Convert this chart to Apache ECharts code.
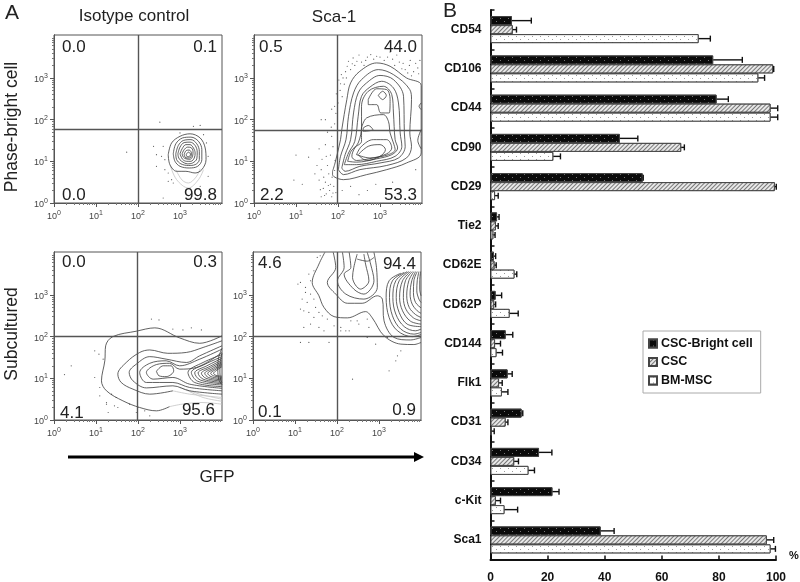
<!DOCTYPE html>
<html>
<head>
<meta charset="utf-8">
<style>html,body{margin:0;padding:0;background:#fff}#chart{width:800px;height:582px}</style>
<script src="https://cdn.jsdelivr.net/npm/echarts@6/dist/echarts.min.js"></script>
</head>
<body>
<div id="chart"></div>
<script>
// panel B values (%), upper = end of the error bar
const markers = ['CD54','CD106','CD44','CD90','CD29','Tie2','CD62E','CD62P','CD144','Flk1','CD31','CD34','c-Kit','Sca1']
const brightValues = [7.5,78,79.2,45.3,53.3,2.3,1.2,1.8,5.3,6,10.9,17,21.7,38.6]
const brightUpper = [14.3,88.2,83.3,51.6,53.5,3,1.8,3.9,7.8,7.6,11.3,21.5,24,43.3]
const cscValues = [7.8,99,98.1,66.8,99.6,1.9,1.4,1.3,1.6,3,5.3,8.3,1.9,96.8]
const cscUpper = [9.1,99.2,100.6,67.9,100.1,2.7,2,1.8,3.5,4.1,6.1,9.8,3.5,99.2]
const msscValues = [72.9,93.8,98.1,22,1.6,1,8.4,6.7,2.1,4,0.4,13.3,4.9,98.1]
const msscUpper = [77,96,100.6,24.5,2.7,1.6,9.2,9.7,4.2,6.1,1.3,15.4,9.5,99.8]
const percentTicks = [0,20,40,60,80,100]

// panel A, everything in decades of the log scale
const decades = [0,1,2,3]
const minorTicks = [0.3,0.48,0.6,0.7,0.78,0.85,0.9,0.95,1.3,1.48,1.6,1.7,1.78,1.85,1.9,1.95,2.3,2.48,2.6,2.7,2.78,2.85,2.9,2.95,3.3,3.48,3.6,3.7,3.78,3.85,3.9,3.95]

const brightIsoRings = [
  [[2.72,1.16],[2.8,1.44],[3,1.6],[3.24,1.66],[3.48,1.56],[3.6,1.32],[3.62,1.04],[3.52,0.8],[3.36,0.72],[3.14,0.76],[2.92,0.76],[2.76,0.92]],
  [[2.84,1.18],[2.9,1.42],[3.06,1.56],[3.26,1.58],[3.44,1.48],[3.52,1.28],[3.52,1.04],[3.42,0.88],[3.22,0.84],[3,0.88],[2.88,1]],
  [[2.9,1.18],[2.96,1.38],[3.08,1.5],[3.26,1.52],[3.4,1.42],[3.46,1.24],[3.46,1.04],[3.36,0.92],[3.2,0.9],[3.02,0.94],[2.92,1.04]],
  [[2.95,1.18],[3,1.34],[3.1,1.45],[3.24,1.46],[3.36,1.38],[3.41,1.22],[3.4,1.06],[3.3,0.96],[3.18,0.94],[3.04,1],[2.97,1.08]],
  [[3,1.18],[3.05,1.3],[3.14,1.4],[3.24,1.4],[3.32,1.32],[3.36,1.2],[3.34,1.08],[3.26,1],[3.16,1],[3.06,1.05]],
  [[3.05,1.18],[3.1,1.28],[3.18,1.34],[3.26,1.33],[3.31,1.24],[3.3,1.12],[3.24,1.05],[3.14,1.06],[3.08,1.1]],
  [[3.1,1.17],[3.15,1.26],[3.22,1.27],[3.27,1.2],[3.26,1.1],[3.18,1.08],[3.12,1.1]],
  [[3.15,1.17],[3.2,1.22],[3.25,1.17],[3.21,1.11],[3.16,1.12]],
]
const brightIsoFaint = [
  [[2.76,0.92],[2.92,0.56],[3.2,0.36],[3.44,0.56],[3.56,0.8]],
  [[2.9,0.8],[3.05,0.55],[3.2,0.48],[3.38,0.62],[3.48,0.82]],
]
const brightIsoDots = [[2.37,1.36],[2.44,1.16],[2.6,1.36],[2.56,1.12],[2.64,0.8],[2.72,0.72],[2.8,0.56],[2.84,0.48],[2.6,0.12],[2.52,1.94],[3.63,1.44],[3.67,1.12],[3.56,1.64],[3.32,1.84],[3.48,1.86],[1.73,1.22],[2.44,0.88],[2.64,1.04],[2.72,0.52],[3.48,0.4],[3.28,0.16],[3.67,0.64],[3,1.68]]

const brightScaRings = [
  [[1.87,0.76],[1.93,0.96],[2.06,1.52],[2.09,1.76],[2.21,2.48],[2.3,2.88],[2.52,3.16],[2.92,3.36],[3.24,3.28],[3.63,3],[3.98,2.82],[3.98,1.2],[3.63,0.96],[3.16,0.8],[2.68,0.68],[2.13,0.56],[1.87,0.68]],
  [[2.01,0.8],[2.06,1.12],[2.19,1.52],[2.25,2.08],[2.37,2.64],[2.56,2.96],[2.96,3.2],[3.32,3.08],[3.71,2.72],[3.75,2.48],[3.71,1.68],[3.75,1.36],[3.63,1.08],[3.16,0.9],[2.52,0.8],[2.13,0.68]],
  [[2.09,0.84],[2.17,1.16],[2.3,1.52],[2.37,2.16],[2.48,2.64],[2.68,2.88],[3,3.06],[3.32,2.96],[3.56,2.56],[3.58,1.68],[3.6,1.36],[3.44,1.08],[3,0.96],[2.52,0.88],[2.17,0.76]],
  [[2.15,0.92],[2.25,1.2],[2.4,1.48],[2.48,2.08],[2.56,2.56],[2.76,2.78],[3.04,2.92],[3.32,2.76],[3.44,2.4],[3.48,1.68],[3.52,1.36],[3.36,1.12],[2.92,1],[2.44,0.92]],
  [[2.23,1],[2.31,1.24],[2.48,1.44],[2.56,1.84],[2.56,2.32],[2.72,2.68],[3.08,2.8],[3.28,2.6],[3.32,2.16],[3.36,1.52],[3.42,1.32],[3.28,1.16],[2.92,1.06],[2.44,0.98]],
  [[2.72,2.48],[2.92,2.74],[3.16,2.72],[3.24,2.48],[3.22,2.16],[3.02,2.16],[2.92,2.36],[2.72,2.36]],
  [[2.56,1.8],[2.68,2.04],[3.08,2.12],[3.2,1.96],[3.24,1.68],[3.32,1.44],[3.36,1.28],[3.2,1.16],[2.84,1.08],[2.44,1.02],[2.33,1.12],[2.4,1.32],[2.56,1.48]],
  [[2.6,1.8],[2.72,1.86],[2.83,1.76],[2.6,1.72]],
  [[2.44,1.16],[2.56,1.36],[2.84,1.52],[3.16,1.52],[3.28,1.32],[3.16,1.18],[2.76,1.08]],
  [[2.48,1.16],[2.72,1.36],[3,1.4],[3.13,1.28],[3,1.12],[2.68,1.02]],
  [[2.96,2.58],[3.06,2.68],[3.15,2.58],[3.06,2.48]],
]
const brightScaOpen = [
  [[3.98,2.4],[3.93,2.32],[3.98,2.24]],
  [[3.98,1.76],[3.9,1.5],[3.98,1.3]],
]
const brightScaDots = [[1.55,1.3],[1.62,1.05],[1.7,1.4],[1.75,0.9],[1.6,0.8],[1.78,0.7],[1.55,0.55],[1.7,0.5],[1.82,0.45],[1.65,0.35],[1.8,0.3],[1.9,0.4],[1.72,0.22],[1.85,0.15],[1.95,0.25],[1.6,0.15],[1.5,0.9],[1.82,1.15],[1.88,1.35],[1.75,1.7],[1.85,1.6],[1.92,1.9],[1.7,2],[1.85,2.25],[1.95,2.15],[2,2.4],[2.05,2.7],[2.1,2.55],[2.02,2.95],[2.12,3],[2.15,2.85],[2.18,3.15],[2.3,3.2],[2.25,3.4],[2.4,3.3],[2.5,3.55],[2.45,3.4],[2.62,3.3],[2.7,3.5],[2.85,3.45],[3,3.5],[3.1,3.42],[3.3,3.45],[3.4,3.55],[3.35,3.3],[3.55,3.35],[3.6,3.2],[3.7,3.3],[3.8,3.15],[3.85,3.35],[3.92,3.1],[3.75,3.05],[1.3,1.1],[1,1.15],[0.95,0.55],[1.15,0.45],[1.45,0.7],[2.1,0.3],[2.3,0.4],[2.5,0.2],[2.7,0.3],[2.9,0.45],[3.3,0.5],[3.85,0.8],[1.6,2],
  [1.72,1.12],[1.66,0.62],[1.86,0.62],[1.77,0.42],[1.92,0.78],[1.58,0.32],[1.88,0.24],[1.68,0.18],[1.93,1.02],[1.84,1.82],[1.92,2.32],[1.96,2.62],[2.06,2.86],[2.08,3.08],[2.2,3],[2.22,3.28],[2.34,3.34],[2.36,3.48],[2.56,3.38],[2.66,3.42],[2.78,3.56],[2.92,3.52],[3.18,3.5],[3.24,3.62],[3.46,3.38],[3.52,3.22],[3.66,3.12],[3.72,3.42],[3.9,3.24],[3.95,3.42]]

const subIsoRings = [
  [[2.44,1.17],[2.6,1.3],[2.79,1.3],[2.85,1.18],[2.67,1.04],[2.5,1.06],[2.44,1.17]],
]
const subIsoOpen = [
  [[4,2.02],[3.47,1.84],[2.99,1.97],[2.4,2.21],[1.96,2.13],[1.4,2],[1.23,1.78],[1.21,1.42],[1.13,0.94],[1.25,0.7],[1.64,0.46],[2.04,0.3],[2.44,0.22],[2.75,0.32]],
  [[4,1.9],[3.55,1.74],[3.15,1.62],[2.71,1.6],[2.28,1.68],[2.04,1.62],[1.72,1.38],[1.52,1.1],[1.6,0.9],[1.88,0.74],[2.28,0.62],[2.83,0.7]],
  [[4,1.78],[3.47,1.54],[3.15,1.38],[2.67,1.46],[2.28,1.52],[1.96,1.34],[1.79,1.14],[1.88,0.94],[2.2,0.77],[2.83,0.82],[3.23,0.7],[4,0.62]],
  [[4,1.7],[3.47,1.46],[2.99,1.3],[2.67,1.42],[2.28,1.36],[2.04,1.14],[2.2,0.9],[2.83,0.9],[3.23,0.78],[4,0.7]],
  [[4,1.62],[3.39,1.26],[2.99,1.22],[2.75,1.36],[2.44,1.33],[2.2,1.14],[2.36,0.98],[2.83,1.02],[3.23,0.86],[4,0.76]],
  [[4,1.57],[3.55,1.38],[3.19,1.14],[3.35,0.9],[4,0.8]],
  [[4,1.52],[3.6,1.34],[3.27,1.14],[3.42,0.93],[4,0.84]],
  [[4,1.48],[3.64,1.3],[3.35,1.13],[3.48,0.96],[4,0.87]],
  [[4,1.44],[3.68,1.27],[3.43,1.13],[3.55,0.98],[4,0.9]],
  [[4,1.4],[3.72,1.25],[3.51,1.12],[3.62,1],[4,0.93]],
  [[4,1.37],[3.76,1.23],[3.59,1.12],[3.68,1.02],[4,0.96]],
  [[4,1.34],[3.79,1.21],[3.66,1.12],[3.74,1.04],[4,0.99]],
  [[4,1.31],[3.83,1.2],[3.73,1.12],[3.8,1.06],[4,1.02]],
  [[4,1.28],[3.87,1.19],[3.8,1.12],[3.86,1.07],[4,1.05]],
  [[4,1.72],[3.92,1.5],[3.9,1.2],[3.93,0.95],[4,0.85]],
  [[4,1.6],[3.96,1.4],[3.95,1.15],[3.97,0.95],[4,0.9]],
]
const subIsoFaint = [
  [[2.75,0.32],[3.05,0.38],[3.5,0.42],[4,0.38]],
  [[2.83,0.7],[3.23,0.62],[3.6,0.58],[4,0.54]],
  [[2.99,0.78],[3.47,0.62],[4,0.5]],
  [[3.15,0.72],[3.55,0.54],[4,0.45]],
]
const subIsoDots = [[0.97,1.66],[1.07,1.58],[1.17,1.46],[0.97,1.02],[1.09,0.78],[0.41,1.3],[0.25,1.09],[1.25,0.38],[1.37,0.62],[1.44,0.34],[1.52,0.3],[1.96,0.18],[2.28,0.1],[1.48,0.54],[2.32,2.42],[2.5,2.4],[2.83,2.18],[3.07,2.16],[3.27,2.21],[3.51,2.16],[1.09,0.58],[1.25,0.42],[1.29,0.18],[1.8,0.38],[2,0.3],[2.16,0.22]]

const subScaOpen = [
  [[1.71,4.02],[1.57,3.74],[1.41,3.3],[1.57,2.98],[1.69,2.7],[1.93,2.48],[2.25,2.45],[2.68,2.6],[2.84,2.45],[3.12,2.02],[3.52,1.82],[3.83,1.81],[4,1.86]],
  [[1.91,4.02],[1.97,3.66],[1.77,3.3],[1.97,3.02],[2.25,2.8],[2.6,2.8],[2.96,2.98],[3.08,2.9],[3.12,2.38],[3.36,1.98],[3.75,1.92],[4,1.98]],
  [[2.13,4.02],[2.17,3.66],[2.01,3.34],[2.21,3.02],[2.64,2.9],[2.96,3.18],[2.94,3.66],[2.88,4.02]],
  [[2.29,4.02],[2.33,3.66],[2.17,3.5],[2.4,3.14],[2.64,3.02],[2.88,3.34],[2.8,3.74],[2.72,4.02]],
  [[2.48,3.98],[2.4,3.66],[2.37,3.42],[2.56,3.14],[2.76,3.34],[2.68,3.74],[2.64,3.98]],
  [[2.48,3.86],[2.72,3.81],[2.88,3.9]],
  [[3.52,3.52],[3.24,3.34],[3.17,2.94],[3.24,2.46],[3.44,2.14],[3.79,2],[4,2.05]],
  [[3.6,3.54],[3.32,3.34],[3.25,2.94],[3.32,2.5],[3.52,2.18],[3.83,2.06],[4,2.1]],
  [[3.67,3.56],[3.4,3.34],[3.33,2.94],[3.4,2.54],[3.6,2.24],[3.87,2.14],[4,2.18]],
  [[3.71,3.56],[3.48,3.34],[3.41,2.94],[3.48,2.58],[3.67,2.3],[4,2.24]],
  [[3.75,3.56],[3.56,3.34],[3.49,2.94],[3.56,2.62],[3.75,2.37],[4,2.3]],
  [[3.79,3.56],[3.63,3.34],[3.58,2.94],[3.64,2.66],[3.82,2.45],[4,2.38]],
  [[3.83,3.56],[3.71,3.34],[3.66,2.98],[3.72,2.7],[3.87,2.53],[4,2.46]],
  [[3.87,3.56],[3.78,3.34],[3.74,3.02],[3.79,2.78],[3.91,2.62],[4,2.56]],
  [[3.91,3.56],[3.83,3.34],[3.82,3.06],[3.87,2.82],[4,2.69]],
  [[3.95,3.56],[3.91,3.34],[3.9,3.1],[3.95,2.9],[4,2.82]],
  [[3.99,3.56],[3.97,3.34],[3.97,3.14],[4,2.98]],
]
const subScaDots = [[1.13,3.3],[1.07,3.26],[1.25,3.18],[1.37,3.34],[1.45,3.58],[1.53,3.9],[1.6,3.94],[1.33,3.5],[1.25,3.06],[1.37,3.02],[1.17,2.9],[1.29,2.82],[1.45,2.9],[1.13,2.66],[1.21,2.62],[1.33,2.58],[1.49,2.7],[1.57,2.58],[1.65,2.5],[1.45,2.46],[1.21,2.22],[1.37,2.3],[1.57,2.22],[1.69,2.14],[1.77,2.42],[1.93,2.26],[2.09,2.22],[2.21,2.14],[2.33,2.38],[2.48,2.38],[2.72,2.42],[2.76,2.22],[2.29,2.14],[2.52,2.3],[2.09,2.14],[1.13,1.86],[1.33,1.86],[1.81,1.86],[2.37,0.98],[3.24,1.18],[3.4,1.42],[3.44,1.54],[3.52,1.66],[2.72,1.98],[2.92,1.82],[3.2,1.98]]

const closed = rings => rings.map(r => r.concat([r[0]]))

const panels = [
  { left: 54, top: 35, cross: [2, 1.76], rings: closed(brightIsoRings), faint: brightIsoFaint, dots: brightIsoDots,
    labels: [['0.0', 62, 47, 'left'], ['0.1', 217, 47, 'right'], ['0.0', 62, 195, 'left'], ['99.8', 217, 195, 'right']] },
  { left: 254, top: 35, cross: [1.98, 1.75], rings: closed(brightScaRings).concat(brightScaOpen), faint: [], dots: brightScaDots,
    labels: [['0.5', 259, 47, 'left'], ['44.0', 417, 47, 'right'], ['2.2', 260, 195, 'left'], ['53.3', 417, 195, 'right']] },
  { left: 54, top: 252, cross: [1.98, 2], rings: closed(subIsoRings).concat(subIsoOpen), faint: subIsoFaint, dots: subIsoDots,
    labels: [['0.0', 62, 262, 'left'], ['0.3', 217, 262, 'right'], ['4.1', 60, 413, 'left'], ['95.6', 215, 410, 'right']] },
  { left: 253, top: 252, cross: [2, 2], rings: subScaOpen, faint: [], dots: subScaDots,
    labels: [['4.6', 258, 263, 'left'], ['94.4', 416, 264, 'right'], ['0.1', 258, 412, 'left'], ['0.9', 416, 410, 'right']] },
]

const FONT = '"Liberation Sans", Arial, sans-serif'
const grids = []
const xAxes = []
const yAxes = []
const series = []
const graphics = []

const flowLabel = (v) => `{b|10}{s|${v}}`
const flowRich = {
  b: { fontSize: 9, color: '#444', fontFamily: FONT, padding: [3, 0, 0, 0] },
  s: { fontSize: 7, color: '#444', fontFamily: FONT, padding: [0, 0, 4, 0] },
}
const flowLine = { lineStyle: { color: '#555', width: 1 } }

panels.forEach((p, i) => {
  grids.push({ left: p.left, top: p.top, width: 168, height: 168, outerBoundsMode: 'none', show: true, borderColor: '#555', borderWidth: 1, backgroundColor: '#fff' })
  const base = { type: 'value', gridIndex: i, min: 0, splitLine: { show: false }, axisLine: { show: true, ...flowLine } }
  const major = {
    ...base,
    axisTick: { show: true, length: 4, customValues: decades, ...flowLine },
    axisLabel: { customValues: decades, formatter: flowLabel, rich: flowRich, margin: 6 },
  }
  const minor = {
    ...base,
    axisTick: { show: true, length: 2, customValues: minorTicks, lineStyle: { color: '#777', width: 1 } },
    axisLabel: { show: false },
  }
  xAxes.push({ ...major, max: 4, position: 'bottom' }, { ...minor, max: 4, position: 'bottom' })
  yAxes.push({ ...major, max: 4.03, position: 'left' }, { ...minor, max: 4.03, position: 'left' })

  const onPanel = { xAxisIndex: i * 2, yAxisIndex: i * 2 }
  const contour = (pts, color, width) => ({
    type: 'line', ...onPanel, data: pts, smooth: 0.35, showSymbol: false, silent: true, clip: true,
    lineStyle: { color, width },
  })
  p.faint.forEach((pts) => series.push(contour(pts, '#c4c4c4', 0.8)))
  p.rings.forEach((pts) => series.push(contour(pts, '#3a3a3a', 0.8)))
  series.push({
    type: 'scatter', ...onPanel, data: p.dots, symbolSize: 1.2, silent: true,
    itemStyle: { color: '#333' },
  })
  // quadrant gates
  series.push({
    type: 'line', ...onPanel, data: [], silent: true,
    markLine: {
      silent: true, symbol: 'none', animation: false, label: { show: false },
      lineStyle: { color: '#555', width: 1.4, type: 'solid' },
      data: [{ xAxis: p.cross[0] }, { yAxis: p.cross[1] }],
    },
  })
  p.labels.forEach(([text, x, y, align]) => {
    graphics.push({ type: 'text', x, y, z: 50, style: { text, fill: '#222', font: `17px ${FONT}`, textAlign: align, textVerticalAlign: 'middle' } })
  })
})

// panel B
const barPanel = panels.length
grids.push({ left: 490.5, top: 10, right: 24, bottom: 22.5, outerBoundsMode: 'none' })
xAxes.push({
  type: 'value', gridIndex: barPanel, min: 0, max: 100, interval: 20,
  axisLine: { show: true, lineStyle: { color: '#111', width: 2 } },
  axisTick: { show: true, inside: true, length: 4, lineStyle: { color: '#111', width: 1.5 } },
  axisLabel: { customValues: percentTicks, margin: 12, color: '#111', fontWeight: 'bold', fontSize: 12, fontFamily: FONT },
  splitLine: { show: false },
})
yAxes.push({
  type: 'category', gridIndex: barPanel, data: markers, inverse: true,
  axisLine: { show: true, lineStyle: { color: '#111', width: 2 } },
  axisTick: { show: true, inside: true, length: 4, alignWithLabel: false, lineStyle: { color: '#111', width: 1.5 } },
  axisLabel: { margin: 9, color: '#111', fontWeight: 'bold', fontSize: 12, fontFamily: FONT },
})

const dotted = (fg, bg) => ({
  symbol: 'rect', symbolSize: 1, color: fg, backgroundColor: bg,
  dashArrayX: [[1, 7], [0, 4, 1, 3]], dashArrayY: [1, 2], rotation: 0,
})
const hatched = { symbol: 'rect', symbolSize: 1, color: '#777', backgroundColor: '#e8e8e8', dashArrayX: [1, 0], dashArrayY: [1, 1.5], rotation: -Math.PI / 4 }

const barSeries = (name, values, decal) => ({
  name, type: 'bar', xAxisIndex: barPanel * 2, yAxisIndex: barPanel * 2, data: values,
  barWidth: 9, barGap: 0, silent: true,
  itemStyle: { color: decal.backgroundColor, borderColor: '#444', borderWidth: 1, decal },
})
const errorSeries = (values, upper, offset) => ({
  type: 'custom', xAxisIndex: barPanel * 2, yAxisIndex: barPanel * 2, silent: true, clip: false, z: 5,
  encode: { x: [0, 2], y: 1 },
  data: values.map((v, i) => [v, i, upper[i]]),
  renderItem: (params, api) => {
    const from = api.coord([api.value(0), api.value(1)])
    const to = api.coord([api.value(2), api.value(1)])
    const y = from[1] + offset
    const style = { stroke: '#111', lineWidth: 1.4 }
    return {
      type: 'group',
      children: [
        { type: 'line', shape: { x1: from[0], y1: y, x2: to[0], y2: y }, style },
        { type: 'line', shape: { x1: to[0], y1: y - 3, x2: to[0], y2: y + 3 }, style },
      ],
    }
  },
})
series.push(
  barSeries('CSC-Bright cell', brightValues, dotted('#777', '#0a0a0a')),
  barSeries('CSC', cscValues, hatched),
  barSeries('BM-MSC', msscValues, dotted('#999', '#fff')),
  errorSeries(brightValues, brightUpper, -9),
  errorSeries(cscValues, cscUpper, 0),
  errorSeries(msscValues, msscUpper, 9)
)

const plainText = (text, x, y, size, align, rotation) => ({
  type: 'text', x, y, rotation: rotation || 0, z: 50,
  style: { text, fill: '#222', font: `${size}px ${FONT}`, textAlign: align || 'center', textVerticalAlign: 'middle' },
})
graphics.push(
  plainText('A', 12, 13, 21),
  plainText('B', 450, 11, 21),
  plainText('Isotype control', 134, 16.5, 17),
  plainText('Sca-1', 334, 17, 17),
  plainText('Phase-bright cell', 12, 127, 17.5, 'center', Math.PI / 2),
  plainText('Subcultured', 12, 334, 17.5, 'center', Math.PI / 2),
  plainText('GFP', 217, 477, 17),
  { type: 'text', x: 794, y: 556, z: 50, style: { text: '%', fill: '#111', font: `bold 11px ${FONT}`, textAlign: 'center', textVerticalAlign: 'middle' } },
  // GFP arrow
  { type: 'line', z: 50, shape: { x1: 68, y1: 457, x2: 416, y2: 457 }, style: { stroke: '#000', lineWidth: 3 } },
  { type: 'polygon', z: 50, shape: { points: [[414, 452], [424, 457], [414, 462]] }, style: { fill: '#000' } }
)

const chart = echarts.init(document.getElementById('chart'), null, { renderer: 'canvas' })
chart.setOption({
  animation: false,
  backgroundColor: '#fff',
  grid: grids,
  xAxis: xAxes,
  yAxis: yAxes,
  legend: {
    data: ['CSC-Bright cell', 'CSC', 'BM-MSC'],
    orient: 'vertical', left: 643, top: 331, width: 113,
    padding: [6, 8, 6, 5], itemGap: 5.5, itemWidth: 8, itemHeight: 8, icon: 'rect', align: 'left',
    backgroundColor: '#fff', borderColor: '#aaa', borderWidth: 1,
    textStyle: { color: '#111', fontWeight: 'bold', fontSize: 12.5, fontFamily: FONT, padding: [0, 0, 0, -1] },
  },
  series,
  graphic: graphics,
})
</script>
</body>
</html>
